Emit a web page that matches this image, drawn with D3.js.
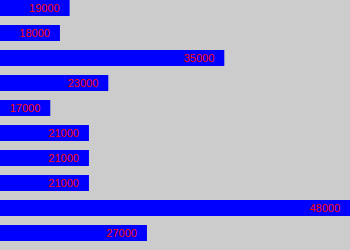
<!DOCTYPE html>
<html>
<head>
<meta charset="utf-8">
<script src="https://cdn.jsdelivr.net/npm/d3@7"></script>
<style>
  body { margin: 0; background: #cccccc; }
  svg { display: block; }
</style>
</head>
<body>
<script>
var values = [19000, 18000, 35000, 23000, 17000, 21000, 21000, 21000, 48000, 27000];
var labels = ["19000", "18000", "35000", "23000", "17000", "21000", "21000", "21000", "48000", "27000"];

var width = 350,
    height = 250;

var x = d3.scaleLinear()
    .domain([11800, 48000])
    .range([0, width]);

var y = d3.scaleBand()
    .domain(d3.range(values.length))
    .range([0, height])
    .paddingInner(0.36)
    .paddingOuter(0);

var chart = d3.select('body')
    .append('svg')
    .attr('width', width)
    .attr('height', height)
    .style('background', '#cccccc');

// bars
chart.selectAll('rect')
    .data(values)
    .enter().append('rect')
    .attr('x', 0)
    .attr('y', function (d, i) { return i * 25; })
    .attr('width', function (d) { return x(d); })
    .attr('height', 16)
    .attr('fill', '#0000ff');

// value labels
chart.selectAll('text')
    .data(values)
    .enter().append('text')
    .attr('x', function (d) { return x(d) - 10; })
    .attr('y', function (d, i) { return i * 25 + 8; })
    .attr('dy', '0.35em')
    .style('text-anchor', 'end')
    .style('font-family', '"Liberation Sans", Arial, sans-serif')
    .style('font-size', '11px')
    .attr('fill', '#ff0000')
    .text(function (d, i) { return labels[i]; });
</script>
</body>
</html>
